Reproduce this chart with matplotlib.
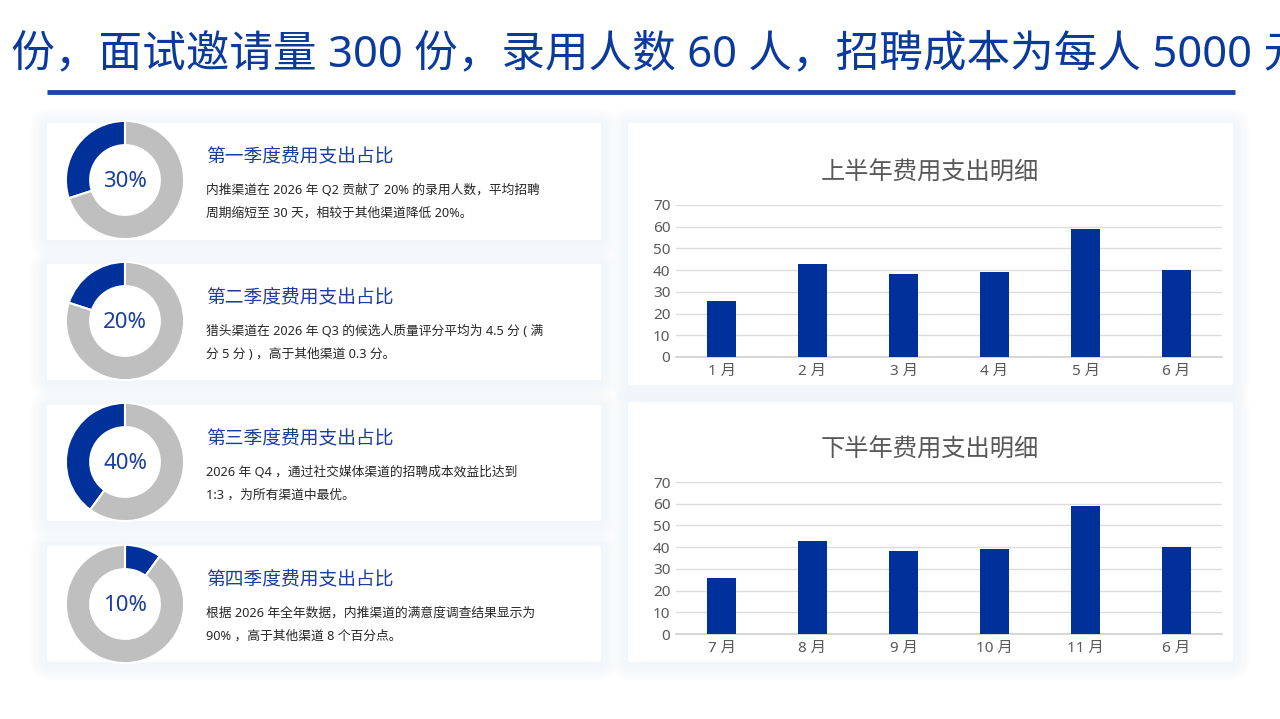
import matplotlib
matplotlib.use("Agg")
import matplotlib.pyplot as plt
from matplotlib.patches import FancyBboxPatch

plt.rcParams['font.family'] = ['Noto Sans', 'Noto Sans CJK SC', 'DejaVu Sans']

# -----------------------------
# data
# -----------------------------
headline = "0 份，面试邀请量 300 份，录用人数 60 人，招聘成本为每人 5000 元"

quarter_share = [30, 20, 40, 10]
quarter_ccw = [True, True, True, False]
quarter_titles = ["第一季度费用支出占比", "第二季度费用支出占比",
                  "第三季度费用支出占比", "第四季度费用支出占比"]
quarter_notes = [
    ["内推渠道在 2026 年 Q2 贡献了 20% 的录用人数，平均招聘",
     "周期缩短至 30 天，相较于其他渠道降低 20%。"],
    ["猎头渠道在 2026 年 Q3 的候选人质量评分平均为 4.5 分 ( 满",
     "分 5 分 ) ，高于其他渠道 0.3 分。"],
    ["2026 年 Q4 ，通过社交媒体渠道的招聘成本效益比达到",
     "1:3 ，为所有渠道中最优。"],
    ["根据 2026 年全年数据，内推渠道的满意度调查结果显示为",
     "90% ，高于其他渠道 8 个百分点。"],
]

h1_months = ["1 月", "2 月", "3 月", "4 月", "5 月", "6 月"]
h1_values = [26, 43, 38, 39, 59, 40]
h2_months = ["7 月", "8 月", "9 月", "10 月", "11 月", "6 月"]
h2_values = [26, 43, 38, 39, 59, 40]

BLUE = "#00309a"
GREY = "#bfbfbf"
TXT = "#595959"
W, H = 1280, 719

fig = plt.figure(figsize=(12.8, 7.19), dpi=100)
fig.patch.set_facecolor("white")


def px_axes(left, top, width, height, **kw):
    # pixel box (top-left origin) -> figure axes
    return fig.add_axes([left / W, 1 - (top + height) / H, width / W, height / H], **kw)


# background layer for cards, shadows, headline
bg = px_axes(0, 0, W, H)
bg.set_xlim(0, W)
bg.set_ylim(H, 0)
bg.axis("off")


def card(x0, y0, x1, y1):
    # soft glow around the card
    for i in range(16, 0, -2):
        bg.add_patch(FancyBboxPatch((x0 - i, y0 - i + 2), x1 - x0 + 2 * i, y1 - y0 + 2 * i,
                                    boxstyle="round,pad=0,rounding_size=%d" % (i + 2),
                                    fc="#e3e9fa", ec="none", alpha=0.055))
    bg.add_patch(FancyBboxPatch((x0, y0), x1 - x0, y1 - y0, boxstyle="round,pad=0,rounding_size=2",
                                fc="white", ec="none"))


left_cards = [(123, 240), (264, 380), (405, 521), (546, 662)]
for top, bot in left_cards:
    card(47, top, 601, bot)
card(628, 123, 1233, 385)
card(628, 402, 1233, 662)

bg.text(-25, 55, headline, fontsize=31.4, color="#0a3a9c", va="center", ha="left")
bg.plot([47, 1235], [92, 92], color="#1c47a6", lw=3.5, solid_capstyle="butt")

# -----------------------------
# donut cards
# -----------------------------
centers = [180, 321, 462, 604]
for cy, share, ccw, title, note, (top, bot) in zip(centers, quarter_share, quarter_ccw,
                                                   quarter_titles, quarter_notes, left_cards):
    ax = px_axes(125 - 65, cy - 65, 130, 130)
    ax.pie([share, 100 - share], colors=[BLUE, GREY], startangle=90, counterclock=ccw,
           radius=1, wedgeprops=dict(width=0.41, edgecolor="white", linewidth=1.5))
    ax.set_xlim(-1.1, 1.1)
    ax.set_ylim(-1.1, 1.1)
    ax.set_aspect("equal")
    ax.text(0, -0.02, f"{share}%", ha="center", va="center", fontsize=16, color="#1a3f9e")

    bg.text(206, top + 33, title, fontsize=13.5, color="#1a3f9e", va="center", ha="left")
    bg.text(206, top + 67, note[0], fontsize=9.2, color="#262626", va="center", ha="left")
    bg.text(206, top + 90, note[1], fontsize=9.2, color="#262626", va="center", ha="left")


# -----------------------------
# bar charts
# -----------------------------
def bar_chart(top_px, title, months, values):
    ax = px_axes(676, top_px, 546, 152)
    x = range(len(months))
    ax.bar(x, values, width=0.31, color=BLUE, zorder=3)
    ax.set_xlim(-0.5, len(months) - 0.5)
    ax.set_ylim(0, 70)
    ax.set_yticks(range(0, 71, 10))
    ax.set_xticks(list(x))
    ax.set_xticklabels(months)
    ax.grid(axis="y", color="#dcdcdc", lw=1, zorder=0)
    ax.axhline(0, color="#d0d0d0", lw=1.2, zorder=2, clip_on=False)
    for s in ax.spines.values():
        s.set_visible(False)
    ax.tick_params(length=0, labelsize=11, labelcolor=TXT, pad=4)
    ax.tick_params(axis="x", pad=5)
    ax.set_facecolor("none")
    bg.text(930, top_px - 31, title, fontsize=17.5, color=TXT, va="center", ha="center")


bar_chart(205, "上半年费用支出明细", h1_months, h1_values)
bar_chart(482, "下半年费用支出明细", h2_months, h2_values)

fig.savefig("out.png", dpi=100, facecolor="white")
